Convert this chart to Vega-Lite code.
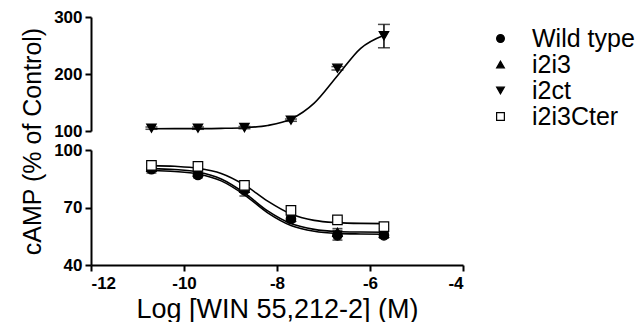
{
  "$schema": "https://vega.github.io/schema/vega-lite/v6.json",
  "padding": {"left": 20, "top": 8, "right": 0, "bottom": 0},
  "background": "white",
  "bounds": "flush",
  "datasets": {
    "points": [
      {"series": "Wild type", "x": -10.7, "y": 90, "lo": 88, "hi": 92},
      {"series": "Wild type", "x": -9.7, "y": 87, "lo": 85.5, "hi": 88.5},
      {"series": "Wild type", "x": -8.7, "y": 79, "lo": 76, "hi": 82},
      {"series": "Wild type", "x": -7.7, "y": 64, "lo": 62.5, "hi": 65.5},
      {"series": "Wild type", "x": -6.7, "y": 55.5, "lo": 53, "hi": 58},
      {"series": "Wild type", "x": -5.7, "y": 55.5, "lo": 54, "hi": 57},
      {"series": "i2i3", "x": -10.7, "y": 91, "lo": 89, "hi": 93},
      {"series": "i2i3", "x": -9.7, "y": 88.5, "lo": 87, "hi": 90},
      {"series": "i2i3", "x": -8.7, "y": 80, "lo": 78, "hi": 82},
      {"series": "i2i3", "x": -7.7, "y": 65, "lo": 63.5, "hi": 66.5},
      {"series": "i2i3", "x": -6.7, "y": 57, "lo": 55, "hi": 59},
      {"series": "i2i3", "x": -5.7, "y": 56.5, "lo": 55, "hi": 58},
      {"series": "i2i3Cter", "x": -10.7, "y": 92, "lo": 90.5, "hi": 93.5},
      {"series": "i2i3Cter", "x": -9.7, "y": 91.5, "lo": 90, "hi": 93},
      {"series": "i2i3Cter", "x": -8.7, "y": 81.5, "lo": 80, "hi": 83},
      {"series": "i2i3Cter", "x": -7.7, "y": 68.5, "lo": 67.5, "hi": 69.5},
      {"series": "i2i3Cter", "x": -6.7, "y": 63.5, "lo": 62.5, "hi": 64.5},
      {"series": "i2i3Cter", "x": -5.7, "y": 60, "lo": 59, "hi": 61}
    ],
    "top": [
      {"series": "i2ct", "x": -10.7, "y": 105, "lo": 103, "hi": 107},
      {"series": "i2ct", "x": -9.7, "y": 105, "lo": 103, "hi": 107},
      {"series": "i2ct", "x": -8.7, "y": 106, "lo": 104, "hi": 108},
      {"series": "i2ct", "x": -7.7, "y": 119, "lo": 117, "hi": 121},
      {"series": "i2ct", "x": -6.7, "y": 210, "lo": 207, "hi": 213},
      {"series": "i2ct", "x": -5.7, "y": 267, "lo": 246, "hi": 287}
    ],
    "curves": [
      {"series": "Wild type", "x": -10.7, "y": 89.3},
      {"series": "Wild type", "x": -10.2, "y": 88.8},
      {"series": "Wild type", "x": -9.7, "y": 87.5},
      {"series": "Wild type", "x": -9.2, "y": 83.9},
      {"series": "Wild type", "x": -8.7, "y": 76.6},
      {"series": "Wild type", "x": -8.2, "y": 67.2},
      {"series": "Wild type", "x": -7.7, "y": 60.6},
      {"series": "Wild type", "x": -7.2, "y": 57.6},
      {"series": "Wild type", "x": -6.7, "y": 56.5},
      {"series": "Wild type", "x": -6.2, "y": 56.2},
      {"series": "Wild type", "x": -5.7, "y": 56.05},
      {"series": "i2i3", "x": -10.7, "y": 90.3},
      {"series": "i2i3", "x": -10.2, "y": 89.8},
      {"series": "i2i3", "x": -9.7, "y": 88.5},
      {"series": "i2i3", "x": -9.2, "y": 84.9},
      {"series": "i2i3", "x": -8.7, "y": 77.6},
      {"series": "i2i3", "x": -8.2, "y": 68.2},
      {"series": "i2i3", "x": -7.7, "y": 61.6},
      {"series": "i2i3", "x": -7.2, "y": 58.6},
      {"series": "i2i3", "x": -6.7, "y": 57.5},
      {"series": "i2i3", "x": -6.2, "y": 57.2},
      {"series": "i2i3", "x": -5.7, "y": 57.05},
      {"series": "i2i3Cter", "x": -10.7, "y": 91.85},
      {"series": "i2i3Cter", "x": -10.2, "y": 91.5},
      {"series": "i2i3Cter", "x": -9.7, "y": 90.5},
      {"series": "i2i3Cter", "x": -9.2, "y": 87.8},
      {"series": "i2i3Cter", "x": -8.7, "y": 81.8},
      {"series": "i2i3Cter", "x": -8.2, "y": 73.3},
      {"series": "i2i3Cter", "x": -7.7, "y": 66.6},
      {"series": "i2i3Cter", "x": -7.2, "y": 63.3},
      {"series": "i2i3Cter", "x": -6.7, "y": 62.1},
      {"series": "i2i3Cter", "x": -6.2, "y": 61.7},
      {"series": "i2i3Cter", "x": -5.7, "y": 61.6}
    ],
    "topcurve": [
      {"series": "i2ct", "x": -10.7, "y": 104.0},
      {"series": "i2ct", "x": -10.2, "y": 104.1},
      {"series": "i2ct", "x": -9.7, "y": 104.2},
      {"series": "i2ct", "x": -9.2, "y": 104.6},
      {"series": "i2ct", "x": -8.7, "y": 105.8},
      {"series": "i2ct", "x": -8.2, "y": 109.7},
      {"series": "i2ct", "x": -7.7, "y": 120.9},
      {"series": "i2ct", "x": -7.2, "y": 148.9},
      {"series": "i2ct", "x": -6.7, "y": 197},
      {"series": "i2ct", "x": -6.2, "y": 245.1},
      {"series": "i2ct", "x": -5.7, "y": 268}
    ]
  },
  "vconcat": [
    {
      "width": 372,
      "height": 114,
      "layer": [
        {
          "data": {"name": "topcurve"},
          "mark": {"type": "line", "color": "black", "strokeWidth": 1.6, "interpolate": "monotone"},
          "encoding": {
            "x": {"field": "x", "type": "quantitative", "scale": {"domain": [-12, -4]}, "axis": null},
            "y": {"field": "y", "type": "quantitative", "scale": {"domain": [100, 300]}, "title": null},
            "detail": {"field": "series"}
          }
        },
        {
          "data": {"name": "top"},
          "mark": {"type": "errorbar", "color": "black", "thickness": 1.5, "ticks": {"size": 12, "thickness": 1.5, "color": "black"}},
          "encoding": {
            "x": {"field": "x", "type": "quantitative", "scale": {"domain": [-12, -4]}, "axis": null},
            "y": {"field": "lo", "type": "quantitative", "scale": {"domain": [100, 300]}, "title": null},
            "y2": {"field": "hi"}
          }
        },
        {
          "data": {"name": "top"},
          "mark": {"type": "point", "filled": true, "size": 90, "strokeWidth": 1.2, "opacity": 1},
          "encoding": {
            "x": {"field": "x", "type": "quantitative", "scale": {"domain": [-12, -4]}, "axis": null},
            "y": {"field": "y", "type": "quantitative", "scale": {"domain": [100, 300]}, "title": null,
                  "axis": {"values": [100, 200, 300], "title": null}},
            "shape": {"field": "series", "type": "nominal",
                      "scale": {"domain": ["Wild type", "i2i3", "i2ct", "i2i3Cter"], "range": ["circle", "triangle-up", "triangle-down", "square"]},
                      "legend": {"title": null}},
            "fill": {"field": "series", "type": "nominal",
                     "scale": {"domain": ["Wild type", "i2i3", "i2ct", "i2i3Cter"], "range": ["black", "black", "black", "white"]},
                     "legend": {"title": null}},
            "stroke": {"field": "series", "type": "nominal",
                     "scale": {"domain": ["Wild type", "i2i3", "i2ct", "i2i3Cter"], "range": ["black", "black", "black", "black"]},
                     "legend": {"title": null}}
          }
        }
      ]
    },
    {
      "width": 372,
      "height": 115,
      "layer": [
        {
          "data": {"name": "curves"},
          "mark": {"type": "line", "color": "black", "strokeWidth": 1.6, "interpolate": "monotone"},
          "encoding": {
            "x": {"field": "x", "type": "quantitative", "scale": {"domain": [-12, -4]}, "title": "Log [WIN 55,212-2] (M)"},
            "y": {"field": "y", "type": "quantitative", "scale": {"domain": [40, 100]}, "title": "cAMP (% of Control)"},
            "detail": {"field": "series"}
          }
        },
        {
          "data": {"name": "points"},
          "mark": {"type": "errorbar", "color": "black", "thickness": 1.5, "ticks": {"size": 10, "thickness": 1.5, "color": "black"}},
          "encoding": {
            "x": {"field": "x", "type": "quantitative", "scale": {"domain": [-12, -4]}, "title": "Log [WIN 55,212-2] (M)"},
            "y": {"field": "lo", "type": "quantitative", "scale": {"domain": [40, 100]}, "title": "cAMP (% of Control)"},
            "y2": {"field": "hi"},
            "detail": {"field": "series"}
          }
        },
        {
          "data": {"name": "points"},
          "mark": {"type": "point", "filled": true, "size": 90, "strokeWidth": 1.2, "opacity": 1},
          "encoding": {
            "x": {"field": "x", "type": "quantitative", "scale": {"domain": [-12, -4]}, "title": "Log [WIN 55,212-2] (M)",
                  "axis": {"values": [-12, -10, -8, -6, -4], "labelExpr": "replace(datum.label, '−', '-')", "titleFontSize": 27, "titlePadding": 5, "labelPadding": 4}},
            "y": {"field": "y", "type": "quantitative", "scale": {"domain": [40, 100]}, "title": "cAMP (% of Control)",
                  "axis": {"values": [40, 70, 100], "titleFontSize": 25, "titleY": -9, "titlePadding": 8}},
            "shape": {"field": "series", "type": "nominal",
                      "scale": {"domain": ["Wild type", "i2i3", "i2ct", "i2i3Cter"], "range": ["circle", "triangle-up", "triangle-down", "square"]},
                      "legend": {"title": null}},
            "fill": {"field": "series", "type": "nominal",
                     "scale": {"domain": ["Wild type", "i2i3", "i2ct", "i2i3Cter"], "range": ["black", "black", "black", "white"]},
                     "legend": {"title": null}},
            "stroke": {"field": "series", "type": "nominal",
                     "scale": {"domain": ["Wild type", "i2i3", "i2ct", "i2i3Cter"], "range": ["black", "black", "black", "black"]},
                     "legend": {"title": null}}
          }
        }
      ]
    }
  ],
  "spacing": 19,
  "resolve": {"scale": {"x": "shared"}},
  "config": {
    "font": "Liberation Sans",
    "view": {"stroke": null},
    "axis": {
      "grid": false,
      "domainColor": "black",
      "domainWidth": 2,
      "tickColor": "black",
      "tickWidth": 2,
      "tickSize": 6,
      "labelColor": "black",
      "labelFont": "Liberation Sans",
      "labelFontSize": 17,
      "labelFontWeight": "bold",
      "labelPadding": 3,
      "titleColor": "black",
      "titleFont": "Liberation Sans",
      "titleFontWeight": "normal"
    },
    "legend": {
      "orient": "none",
      "legendX": 397,
      "legendY": 9,
      "padding": 0,
      "labelFont": "Liberation Sans",
      "labelFontSize": 25,
      "labelColor": "black",
      "labelOffset": 19,
      "rowPadding": 0,
      "symbolSize": 60,
      "symbolStrokeWidth": 1.2
    }
  }
}
